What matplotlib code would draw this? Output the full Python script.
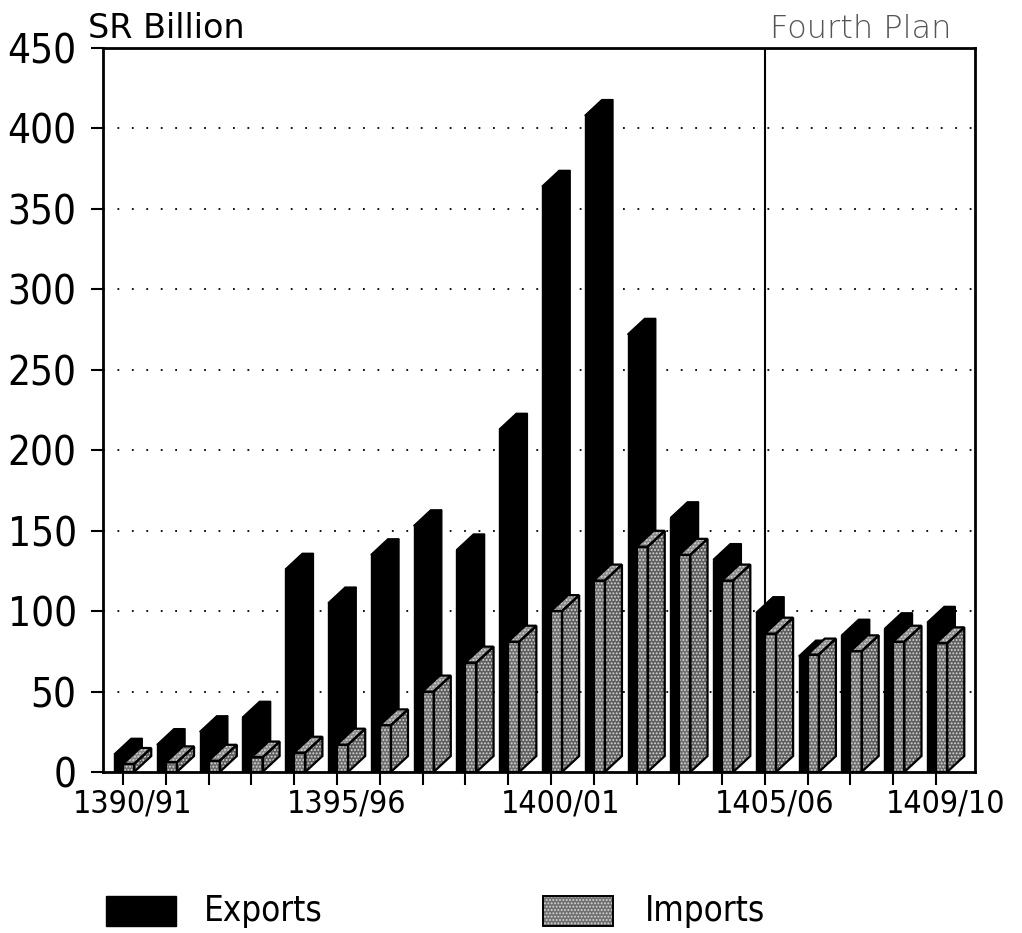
import matplotlib.pyplot as plt
from matplotlib.patches import Polygon, Rectangle
from matplotlib.transforms import ScaledTranslation

# Exports and imports, SR billion, 1390/91 - 1409/10
years = ['1390/91', '1391/92', '1392/93', '1393/94', '1394/95',
         '1395/96', '1396/97', '1397/98', '1398/99', '1399/00',
         '1400/01', '1401/02', '1402/03', '1403/04', '1404/05',
         '1405/06', '1406/07', '1407/08', '1408/09', '1409/10']
exports = [11, 17, 25, 34, 126, 105, 135, 153, 138, 213,
           364, 408, 272, 158, 132, 99, 72, 85, 89, 93]
imports = [5, 6, 7, 9, 12, 17, 29, 50, 68, 81,
           100, 119, 140, 135, 119, 86, 73, 75, 81, 80]
shown_labels = ['1390/91', '1395/96', '1400/01', '1405/06', '1409/10']
plan_start = '1405/06'

plt.rcParams['hatch.linewidth'] = 0.9
narrow = dict(family='DejaVu Sans', stretch='condensed')

fig = plt.figure(figsize=(10.22, 9.33), dpi=100)
ax = fig.add_axes([0.1008, 0.1726, 0.8532, 0.776])

# box geometry in data units
w = 0.26          # front face width
dx = 0.40         # depth to the right
dy = 9.9          # depth upwards
exp_shift = -0.21


def box(x0, h):
    front = [(x0, 0), (x0 + w, 0), (x0 + w, h), (x0, h)]
    top = [(x0, h), (x0 + w, h), (x0 + w + dx, h + dy), (x0 + dx, h + dy)]
    side = [(x0 + w, 0), (x0 + w + dx, dy), (x0 + w + dx, h + dy), (x0 + w, h)]
    return front, top, side


for i, (e, m) in enumerate(zip(exports, imports)):
    for face in box(i + exp_shift, e):
        ax.add_patch(Polygon(face, closed=True, facecolor='black',
                             edgecolor='black', lw=1, zorder=3))
    front, top, side = box(i, m)
    for face, fc in ((front, '#6f6f6f'), (side, '#5e5e5e'), (top, '#8a8a8a')):
        ax.add_patch(Polygon(face, closed=True, facecolor=fc, edgecolor='#d8d8d8',
                             lw=0, hatch='.....', zorder=4))
        ax.add_patch(Polygon(face, closed=True, facecolor='none',
                             edgecolor='black', lw=1.6, zorder=5))

ax.set_xlim(-0.467, 19.91)
ax.set_ylim(0, 450)
ax.set_yticks(range(0, 451, 50))
ax.set_xticks(range(len(years)))
ax.set_xticklabels([y if y in shown_labels else '' for y in years])

ax.axvline(years.index(plan_start), color='black', lw=1.5, zorder=2)

for y in range(50, 450, 50):
    ax.axhline(y, color='black', lw=1.3, ls=(0, (1, 7)), zorder=1)

for s in ax.spines.values():
    s.set_linewidth(2)
    s.set_color('black')

ax.tick_params(axis='both', direction='out', length=9, width=1.5, colors='black')
ax.tick_params(axis='y', pad=10)
ax.tick_params(axis='x', pad=3)
for lab in ax.get_yticklabels():
    lab.update(narrow)
    lab.set_fontsize(29)
for lab in ax.get_xticklabels():
    lab.update(narrow)
    lab.set_fontsize(23)
    lab.set_transform(lab.get_transform() + ScaledTranslation(0.10, 0, fig.dpi_scale_trans))

fig.text(0.086, 1 - 38 / 933, 'SR Billion', fontsize=24, family='DejaVu Sans',
         color='black', va='baseline', ha='left')
fig.text(0.753, 1 - 38 / 933, 'Fourth Plan', fontsize=23, family='DejaVu Sans',
         color='#555555', va='baseline', ha='left', fontweight='light')

# legend
fig.patches.append(Rectangle((106 / 1022, 1 - 926 / 933), 70 / 1022, 30 / 933,
                             transform=fig.transFigure, facecolor='black',
                             edgecolor='black'))
fig.text(204 / 1022, 1 - 911 / 933, 'Exports', fontsize=25, va='center',
         ha='left', **narrow)
fig.patches.append(Rectangle((543 / 1022, 1 - 926 / 933), 70 / 1022, 30 / 933,
                             transform=fig.transFigure, facecolor='#6f6f6f',
                             edgecolor='#d8d8d8', lw=0, hatch='.....'))
fig.patches.append(Rectangle((543 / 1022, 1 - 926 / 933), 70 / 1022, 30 / 933,
                             transform=fig.transFigure, facecolor='none',
                             edgecolor='black', lw=1.4))
fig.text(645 / 1022, 1 - 911 / 933, 'Imports', fontsize=25, va='center',
         ha='left', **narrow)

fig.savefig('out.png', dpi=100)
